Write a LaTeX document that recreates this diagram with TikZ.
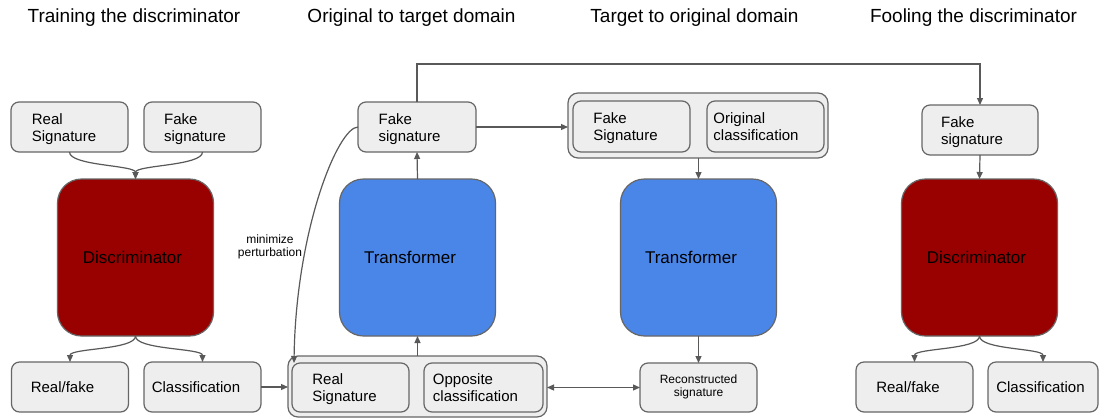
\documentclass[tikz,border=0pt]{standalone}
\usepackage{fontspec}
\setmainfont{Liberation Sans}
\usetikzlibrary{arrows.meta}
\definecolor{boxfill}{HTML}{EEEEEE}
\definecolor{boxline}{HTML}{666666}
\definecolor{arrowc}{HTML}{595959}
\definecolor{discred}{HTML}{990000}
\definecolor{transblue}{HTML}{4A86E8}
\begin{document}
\begin{tikzpicture}[x=1pt,y=-1pt,
  sbox/.style={draw=boxline, fill=boxfill, line width=1.2pt, rounded corners=8pt, inner sep=0pt, outer sep=0pt},
  gbox/.style={sbox, rounded corners=10pt},
  bignode/.style={draw=boxline, line width=1.2pt, rounded corners=24pt, minimum width=156pt, minimum height=157pt, inner sep=0pt, outer sep=0pt},
  txt/.style={align=left, inner sep=0pt, font=\fontsize{15}{17}\selectfont},
  bigtxt/.style={inner sep=0pt, font=\fontsize{17}{20}\selectfont},
  smalltxt/.style={align=center, inner sep=0pt, font=\fontsize{12}{13}\selectfont},
  title/.style={anchor=base, inner sep=0pt, font=\fontsize{19}{22}\selectfont},
  conn/.style={draw=arrowc, line width=1.2pt, -{Triangle[length=7pt,width=6pt]}},
  dconn/.style={draw=arrowc, line width=1.2pt, {Triangle[length=7pt,width=6pt]}-{Triangle[length=7pt,width=6pt]}},
  plain/.style={draw=arrowc, line width=1.2pt},
]
\useasboundingbox[fill=white] (0,0) rectangle (1100,418);

% titles
\node[title] (t1) at (134,22) {Training the discriminator};
\node[title] (t2) at (411.5,22) {Original to target domain};
\node[title] (t3) at (694.5,22) {Target to original domain};
\node[title] (t4) at (973.5,22) {Fooling the discriminator};

% column 1
\node[sbox, minimum width=117pt, minimum height=50pt] (rs1) at (69.5,127) {};
\node[txt] (rs1t) at (64,129) {Real\\Signature};
\node[sbox, minimum width=117pt, minimum height=50pt] (fs1) at (202.5,127) {};
\node[txt] (fs1t) at (195,129) {Fake\\signature};
\node[bignode, fill=discred] (d1) at (135.5,257.5) {};
\node[bigtxt] (d1t) at (132.5,257.5) {Discriminator};
\node[sbox, minimum width=117pt, minimum height=50pt] (rf1) at (70,387) {};
\node[txt] (rf1t) at (62.5,387) {Real/fake};
\node[sbox, minimum width=117pt, minimum height=50pt] (cl1) at (202.5,387) {};
\node[txt] (cl1t) at (196,387) {Classification};

% column 2
\node[gbox, minimum width=259pt, minimum height=61pt] (g1) at (417.5,386.5) {};
\node[sbox, minimum width=117pt, minimum height=49pt] (rs2) at (350.5,387.5) {};
\node[txt] (rs2t) at (344.5,389.5) {Real\\Signature};
\node[sbox, minimum width=119pt, minimum height=49pt] (oc2) at (483.5,387.5) {};
\node[txt] (oc2t) at (475.5,388) {Opposite\\classification};
\node[bignode, fill=transblue] (tr1) at (417.5,257.5) {};
\node[bigtxt] (tr1t) at (410,257.5) {Transformer};
\node[sbox, minimum width=118pt, minimum height=50pt] (fs2) at (417,127) {};
\node[txt] (fs2t) at (409.5,129) {Fake\\signature};
\node[smalltxt] (mpt) at (270,247) {minimize\\perturbation};

% column 3
\node[gbox, minimum width=260pt, minimum height=65pt] (g2) at (698,125.5) {};
\node[sbox, minimum width=117pt, minimum height=51pt] (fs3) at (631.5,126.5) {};
\node[txt] (fs3t) at (625.5,128.5) {Fake\\Signature};
\node[sbox, minimum width=117pt, minimum height=51pt] (oc3) at (765.5,126.5) {};
\node[txt] (oc3t) at (756,127) {Original\\classification};
\node[bignode, fill=transblue] (tr2) at (698.5,257.5) {};
\node[bigtxt] (tr2t) at (691,257.5) {Transformer};
\node[sbox, minimum width=117pt, minimum height=49pt] (rec) at (698.5,387.5) {};
\node[smalltxt] (rect) at (698.5,386.5) {Reconstructed\\signature};

% column 4
\node[sbox, minimum width=116pt, minimum height=50pt] (fs4) at (980,130) {};
\node[txt] (fs4t) at (972,132) {Fake\\signature};
\node[bignode, fill=discred] (d2) at (979.5,257.5) {};
\node[bigtxt] (d2t) at (976.5,257.5) {Discriminator};
\node[sbox, minimum width=117pt, minimum height=50pt] (rf2) at (914.5,387) {};
\node[txt] (rf2t) at (908,387) {Real/fake};
\node[sbox, minimum width=110pt, minimum height=50pt] (cl2) at (1043,387) {};
\node[txt] (cl2t) at (1040.5,387) {Classification};

% helper coordinates
\coordinate (bend) at (417,64);
\coordinate (mp) at (294,363);

% connectors column 1
\draw[conn] (rs1.south) .. controls +(0,14) and +(0,-14) .. (d1.north);
\draw[conn] (fs1.south) .. controls +(0,14) and +(0,-14) .. (d1.north);
\draw[conn] (d1.south) .. controls +(0,14) and +(0,-14) .. (rf1.north);
\draw[conn] (d1.south) .. controls +(0,14) and +(0,-14) .. (cl1.north);
\draw[conn] (cl1.east) -- (g1.west |- cl1.east);

% connectors column 2
\draw[conn] (g1.north -| tr1.south) -- (tr1.south);
\draw[conn] (tr1.north) -- (fs2.south);
\draw[conn] (fs2.west) .. controls (338,127) and (296,230) .. (mp);
\draw[conn] (fs2.east) -- (g2.west |- fs2.east);
\draw[conn] (fs2.north) -- (bend) -| (fs4.north);
\draw[dconn] (g1.east |- rec.west) -- (rec.west);

% connectors column 3
\draw[conn] (g2.south -| tr2.north) -- (tr2.north);
\draw[conn] (tr2.south) -- (rec.north);

% connectors column 4
\draw[conn] (fs4.south) -- (d2.north);
\draw[conn] (d2.south) .. controls +(0,14) and +(0,-14) .. (rf2.north);
\draw[conn] (d2.south) .. controls +(0,14) and +(0,-14) .. (cl2.north);
\end{tikzpicture}
\end{document}
